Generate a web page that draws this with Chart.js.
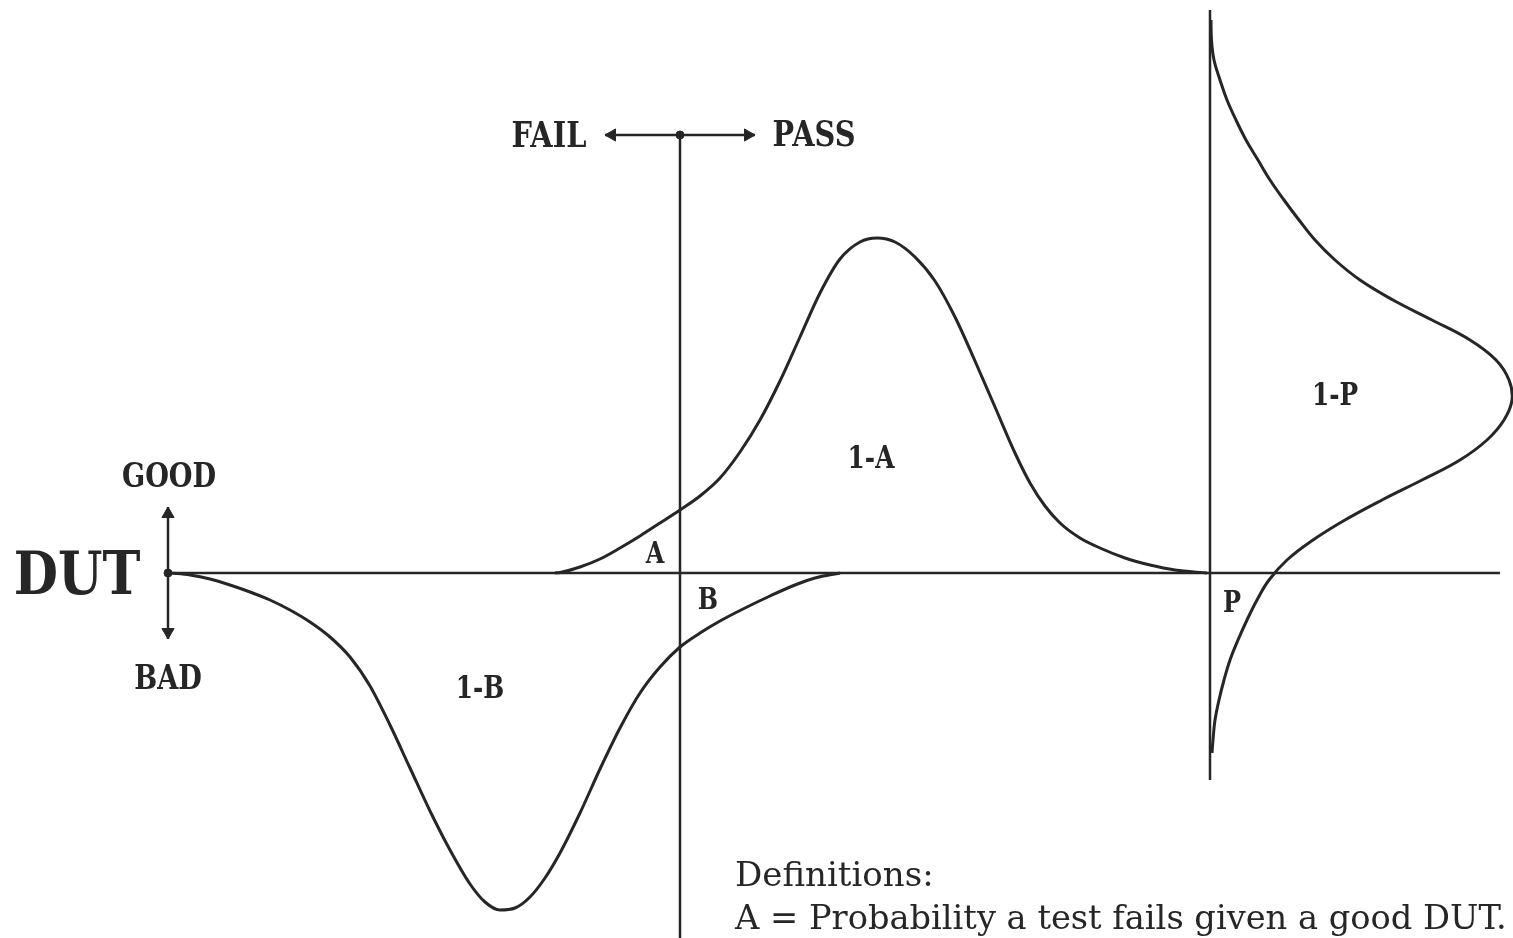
<!DOCTYPE html>
<html>
<head>
<meta charset="utf-8">
<title>DUT pass / fail distributions</title>
<script src="https://cdn.jsdelivr.net/npm/chart.js@4"></script>
<style>
  html, body { margin: 0; padding: 0; background: #ffffff; }
  canvas { display: block; }
</style>
</head>
<body>
<canvas id="dutChart" width="1513" height="938"></canvas>
<script>
// test measurement on x (threshold at 0), probability density on y (axis at 0)
const goodX = [-1.25, -1.20, -1.00, -0.80, -0.60, -0.40, -0.20, 0, 0.20, 0.40, 0.60, 0.80, 1.00, 1.20, 1.40, 1.60, 1.80, 1.97, 2.15, 2.35, 2.55, 2.75, 2.95, 3.15, 3.35, 3.50, 3.65, 3.80, 4.00, 4.20, 4.45, 4.70, 4.95, 5.27];
const goodY = [0, 0.005, 0.06, 0.14, 0.25, 0.37, 0.50, 0.63, 0.77, 0.95, 1.21, 1.53, 1.92, 2.36, 2.80, 3.14, 3.31, 3.35, 3.31, 3.16, 2.92, 2.56, 2.12, 1.66, 1.20, 0.90, 0.67, 0.50, 0.35, 0.25, 0.15, 0.08, 0.03, 0];

const badX = [-5.10, -4.90, -4.70, -4.50, -4.30, -4.10, -3.90, -3.70, -3.50, -3.30, -3.10, -2.90, -2.70, -2.50, -2.30, -2.10, -1.95, -1.80, -1.65, -1.50, -1.35, -1.20, -1.00, -0.80, -0.60, -0.40, -0.20, 0, 0.20, 0.40, 0.65, 0.90, 1.15, 1.35, 1.60];
const badY = [0, -0.02, -0.06, -0.12, -0.19, -0.27, -0.37, -0.49, -0.64, -0.84, -1.13, -1.52, -1.95, -2.38, -2.77, -3.11, -3.29, -3.37, -3.35, -3.24, -3.05, -2.80, -2.40, -1.96, -1.55, -1.20, -0.94, -0.74, -0.60, -0.48, -0.35, -0.23, -0.12, -0.05, 0];

// pass distribution drawn sideways against its own baseline
const passX = [5.31, 5.315, 5.34, 5.40, 5.47, 5.56, 5.66, 5.78, 5.90, 6.04, 6.19, 6.35, 6.55, 6.80, 7.13, 7.52, 7.90, 8.16, 8.29, 8.32, 8.24, 8.07, 7.80, 7.42, 7.02, 6.65, 6.33, 6.07, 5.89, 5.77, 5.67, 5.58, 5.50, 5.44, 5.39, 5.35, 5.33, 5.32];
const passY = [5.53, 5.33, 5.13, 4.93, 4.73, 4.53, 4.33, 4.13, 3.93, 3.73, 3.53, 3.33, 3.13, 2.93, 2.73, 2.53, 2.33, 2.13, 1.93, 1.73, 1.53, 1.33, 1.13, 0.93, 0.73, 0.53, 0.33, 0.13, -0.07, -0.27, -0.47, -0.67, -0.87, -1.07, -1.27, -1.47, -1.67, -1.80];

const axisStart = -5.12;
const axisEnd = 8.20;
const passBase = 5.30;
const passTop = 5.63;
const passBottom = -2.07;
const thresholdTop = 4.38;
const thresholdBottom = -3.65;
const failPassReach = 0.75;
const goodBadReach = 0.66;

const ink = '#262626';

const labels = [
  { text: 'FAIL', x: -1.31, y: 4.35, size: 36, bold: true },
  { text: 'PASS', x: 1.34, y: 4.36, size: 36, bold: true },
  { text: 'GOOD', x: -5.11, y: 0.95, size: 34, bold: true },
  { text: 'BAD', x: -5.12, y: -1.07, size: 34, bold: true },
  { text: 'DUT', x: -6.03, y: -0.05, size: 60, bold: true, squeeze: 0.85 },
  { text: 'A', x: -0.25, y: 0.18, size: 30, bold: true },
  { text: 'B', x: 0.28, y: -0.28, size: 30, bold: true },
  { text: '1-A', x: 1.91, y: 1.13, size: 31, bold: true },
  { text: '1-B', x: -2.00, y: -1.17, size: 31, bold: true },
  { text: '1-P', x: 6.55, y: 1.76, size: 31, bold: true },
  { text: 'P', x: 5.52, y: -0.31, size: 30, bold: true },
  { text: 'Definitions:', x: 0.55, y: -3.04, size: 34, bold: false, align: 'left', squeeze: 1 },
  { text: 'A = Probability a test fails given a good DUT.', x: 0.55, y: -3.47, size: 34, bold: false, align: 'left', squeeze: 0.99 }
];

const zip = (xs, ys) => xs.map((x, i) => ({ x: x, y: ys[i] }));

function lineSet(points, width, smooth) {
  return {
    data: points,
    showLine: true,
    borderColor: ink,
    borderWidth: width,
    tension: smooth ? 0.4 : 0,
    cubicInterpolationMode: smooth === 'monotone' ? 'monotone' : 'default',
    pointRadius: 0,
    fill: false
  };
}

const arrowSize = 7;
const arrowStep = 0.07;

const arrowHeads = {
  data: [
    { x: -failPassReach + arrowStep, y: thresholdTop },
    { x: failPassReach - arrowStep, y: thresholdTop },
    { x: axisStart, y: goodBadReach - arrowStep },
    { x: axisStart, y: -goodBadReach + arrowStep }
  ],
  showLine: false,
  pointStyle: 'triangle',
  pointRadius: arrowSize,
  pointRotation: [-90, 90, 0, 180],
  backgroundColor: ink,
  borderColor: ink,
  borderWidth: 1
};

const joints = {
  data: [{ x: 0, y: thresholdTop }, { x: axisStart, y: 0 }],
  showLine: false,
  pointStyle: 'circle',
  pointRadius: 4,
  backgroundColor: ink,
  borderColor: ink
};

const textPlugin = {
  id: 'textLabels',
  beforeDraw(chart) {
    const ctx = chart.ctx;
    ctx.save();
    ctx.fillStyle = '#ffffff';
    ctx.fillRect(0, 0, chart.width, chart.height);
    ctx.restore();
  },
  afterDatasetsDraw(chart) {
    const ctx = chart.ctx;
    const xs = chart.scales.x;
    const ys = chart.scales.y;
    labels.forEach(l => {
      const px = xs.getPixelForValue(l.x);
      const py = ys.getPixelForValue(l.y);
      const squeeze = l.squeeze || 0.8;
      ctx.save();
      ctx.fillStyle = ink;
      ctx.font = (l.bold ? 'bold ' : '') + l.size + 'px "DejaVu Serif"';
      ctx.textBaseline = 'middle';
      ctx.textAlign = l.align || 'center';
      ctx.translate(px, py);
      ctx.scale(squeeze, 1);
      ctx.fillText(l.text, 0, 0);
      ctx.restore();
    });
  }
};

new Chart(document.getElementById('dutChart'), {
  type: 'scatter',
  data: {
    datasets: [
      lineSet([{ x: axisStart, y: 0 }, { x: axisEnd, y: 0 }], 2.5, false),
      lineSet([{ x: 0, y: thresholdTop }, { x: 0, y: thresholdBottom }], 2.5, false),
      lineSet([{ x: -failPassReach, y: thresholdTop }, { x: failPassReach, y: thresholdTop }], 2.5, false),
      lineSet([{ x: axisStart, y: goodBadReach }, { x: axisStart, y: -goodBadReach }], 2.5, false),
      lineSet([{ x: passBase, y: passTop }, { x: passBase, y: passBottom }], 2.5, false),
      lineSet(zip(goodX, goodY), 3, 'monotone'),
      lineSet(zip(badX, badY), 3, 'monotone'),
      lineSet(zip(passX, passY), 3, true),
      arrowHeads,
      joints
    ]
  },
  options: {
    responsive: false,
    animation: false,
    layout: { padding: 0, autoPadding: false },
    plugins: {
      legend: { display: false },
      tooltip: { enabled: false }
    },
    scales: {
      x: { type: 'linear', min: -6.8, max: 8.33, display: false },
      y: { type: 'linear', min: -3.65, max: 5.73, display: false }
    }
  },
  plugins: [textPlugin]
});
</script>
</body>
</html>
